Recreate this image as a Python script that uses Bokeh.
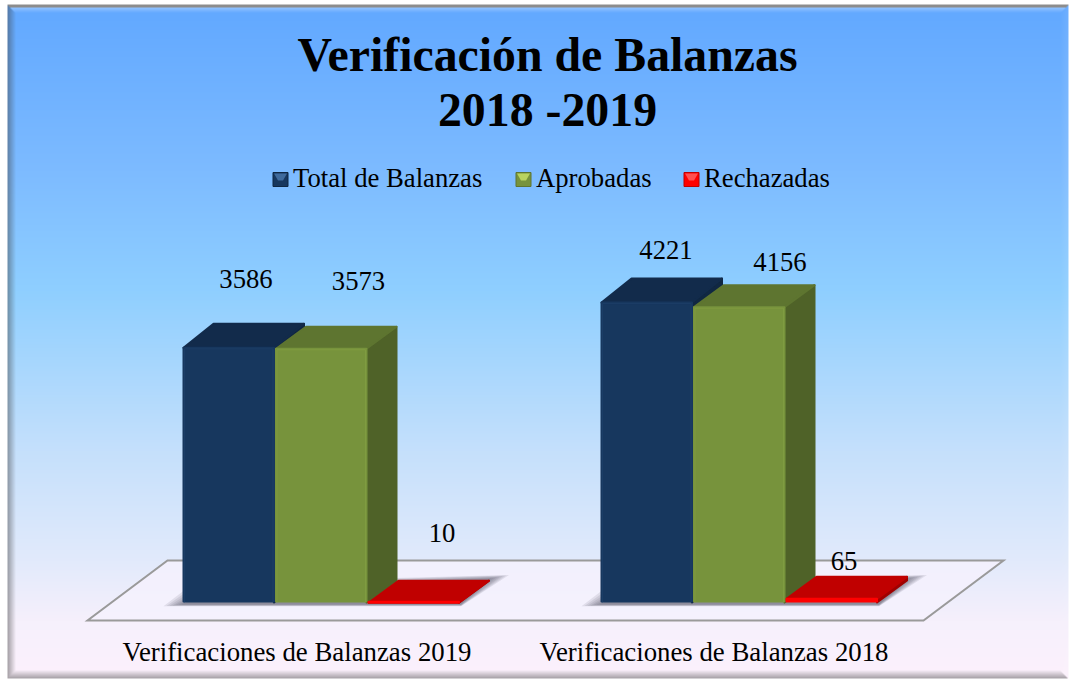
import numpy as np
from bokeh.plotting import figure
from bokeh.models import Range1d
from bokeh.core.properties import value
from bokeh.embed import file_html
from bokeh.resources import INLINE

title_lines = ["Verificación de Balanzas", "2018 -2019"]
categories = ["Verificaciones de Balanzas 2019", "Verificaciones de Balanzas 2018"]
series_names = ["Total de Balanzas", "Aprobadas", "Rechazadas"]
total = [3586, 4221]
aprobadas = [3573, 4156]
rechazadas = [10, 65]

W, H = 1074, 683
BASE = 602          # pixel row of value 0
K = 0.0713          # pixels per unit
SERIF = value("Liberation Serif")

def Y(px):
    return (BASE - px) / K

p = figure(width=W, height=H, x_range=Range1d(0, W), y_range=Range1d(Y(H), Y(0)),
           output_backend="svg", toolbar_location=None, min_border=0,
           outline_line_color=None, border_fill_color=None, background_fill_color=None,
           margin=(0, 0, 0, 0))
p.xaxis.visible = False
p.yaxis.visible = False
p.grid.visible = False

# ---- panel background -------------------------------------------------
stops_y = [0, 20, 170, 290, 450, 560, 620, 683]
stops_c = np.array([(98, 168, 255), (100, 170, 255), (125, 187, 255), (143, 207, 255),
                    (197, 224, 252), (226, 234, 251), (246, 240, 252), (253, 241, 252)], float)
L, T, R, B = 7, 4, 1068, 678
yy = np.arange(H)
rgb = np.zeros((H, W, 3))
for c in range(3):
    rgb[:, :, c] = np.interp(yy, stops_y, stops_c[:, c])[:, None]
img = np.zeros((H, W, 4), dtype=np.uint8)
xg, yg = np.meshgrid(np.arange(W), np.arange(H))
band = 8.0
dl = (xg - L) / band; dr = (R - 1 - xg) / band; dt = (yg - T) / band; db = (B - 1 - yg) / band
dm = np.minimum.reduce([dl, dr, dt, db])
mix = np.clip(1 - dm, 0, 1)[:, :, None]
is_top = ((dt <= dl) & (dt <= dr) & (dt <= db))[:, :, None]
is_right = ((dr <= dl) & (dr <= dt) & (dr <= db))[:, :, None]
edge = np.where(is_top, rgb * 0.55 + 255 * 0.45, np.where(is_right, rgb * 0.92 + 20, rgb * 0.55 + 30))
edge = np.clip(edge, 0, 255)
out = rgb * (1 - mix) + edge * mix
thin = (dt * band < 3)[:, :, None]
out = np.where(thin & is_top, 140.0, out)
img[:, :, :3] = out.astype(np.uint8)
img[:, :, 3] = np.where((xg >= L) & (xg < R) & (yg >= T) & (yg < B), 255, 0)
p.image_rgba(image=[img[::-1].view(np.uint32).reshape(H, W)], x=0, y=Y(H), dw=W, dh=Y(0) - Y(H))

# ---- floor -------------------------------------------------------------
DX = 30
DEPTH = [24, 22, 22]
p.patch([87, 923, 1003, 167], [Y(620), Y(620), Y(560), Y(560)], fill_color="#F4F1FD", fill_alpha=0.85,
        line_color="#9A9A9A", line_width=2, line_join="miter")

# ---- bars --------------------------------------------------------------
BW = 92.5
starts = [182, 600]
front = ["#17375E", "#77933C", "#FF0000"]
top_c = ["#122B4B", "#5E7530", "#C00000"]
side_c = ["#102742", "#4F6228", "#A00000"]
series = [total, aprobadas, rechazadas]

def shadow(xl, xr):
    for i in range(7):
        a = i * 3.0
        p.patch([xl - a, xr, xr + DX + a, xl + DX - a],
                [Y(604 + a * 0.1), Y(604 + a * 0.1), Y(578 - a * 0.2), Y(590 + a * -0.4)],
                fill_color="#444455", fill_alpha=0.11, line_color=None)

for g, x0 in enumerate(starts):
    shadow(x0 - 1, x0 + 3 * BW + 1)
    for s in [0, 1, 2]:
        v = series[s][g]
        xl = x0 + s * BW
        xr = xl + BW
        y1 = v
        dy = DEPTH[s] / K
        p.patch([xr - 1, xr + DX - 1, xr + DX - 1, xr - 1], [0, dy, y1 + dy - 1 / K, y1 - 1 / K],
                fill_color=side_c[s], line_color=side_c[s], line_width=2, line_join="round")
        p.patch([xl + 1, xr - 1, xr + DX - 1, xl + DX + 1], [y1 - 1 / K, y1 - 1 / K, y1 + dy - 1 / K, y1 + dy - 1 / K],
                fill_color=top_c[s], line_color=top_c[s], line_width=2, line_join="round")
    for s in [0, 1, 2]:
        v = series[s][g]
        xl = x0 + s * BW
        # the front face is inset so that its round stroke gives soft corners
        p.quad(left=xl + 1, right=xl + BW - 1, bottom=1 / K if v > 50 else 0, top=v - 1 / K if v > 50 else v,
               fill_color=front[s], line_color=front[s], line_width=2, line_join="round")
    for s, c in [(0, "#1F426C"), (1, "#85A145")]:
        xl = x0 + s * BW
        p.line([xl + 2, xl + 2, xl + BW - 2, xl + BW - 2],
               [0, series[s][g] - 2 / K, series[s][g] - 2 / K, 0],
               line_color=c, line_width=1, line_alpha=0.6)

# ---- value labels ------------------------------------------------------
label_x = [[245.5, 358, 441.5], [665.5, 779.5, 843.5]]
label_y = [[278, 280, 532], [249, 261, 560]]
for g in range(2):
    for s in range(3):
        p.text([label_x[g][s]], [Y(label_y[g][s])], text=[str(series[s][g])], text_font=SERIF,
               text_font_size="26.7px", text_color="#000000", text_align="center", text_baseline="middle")

# ---- category labels ---------------------------------------------------
for name, cx in zip(categories, [296.5, 713.5]):
    p.text([cx], [Y(651)], text=[name], text_font=SERIF, text_font_size="26.8px",
           text_color="#000000", text_align="center", text_baseline="middle")

# ---- title -------------------------------------------------------------
for line, cy in zip(title_lines, [54, 109]):
    p.text([547], [Y(cy)], text=[line], text_font=SERIF, text_font_style="bold",
           text_font_size="47.8px", text_color="#000000", text_align="center", text_baseline="middle")

# ---- legend ------------------------------------------------------------
leg_x = [272.5, 515.5, 683.5]
leg_light = ["#3F6A9C", "#B9D35F", "#FF5050"]
for name, lx, c, lc, d in zip(series_names, leg_x, front, leg_light, ["#0F2743", "#5E7530", "#C00000"]):
    p.quad(left=lx, right=lx + 15, top=Y(172), bottom=Y(186), fill_color=c, line_color=d, line_width=1)
    p.patch([lx + 1, lx + 14, lx + 10, lx + 5], [Y(173), Y(173), Y(180), Y(180)],
            fill_color=lc, line_color=None)
    p.text([lx + 20], [Y(177.5)], text=[name], text_font=SERIF, text_font_size="26.7px",
           text_color="#000000", text_align="left", text_baseline="middle")

open("out.html", "w").write(file_html(p, INLINE))
